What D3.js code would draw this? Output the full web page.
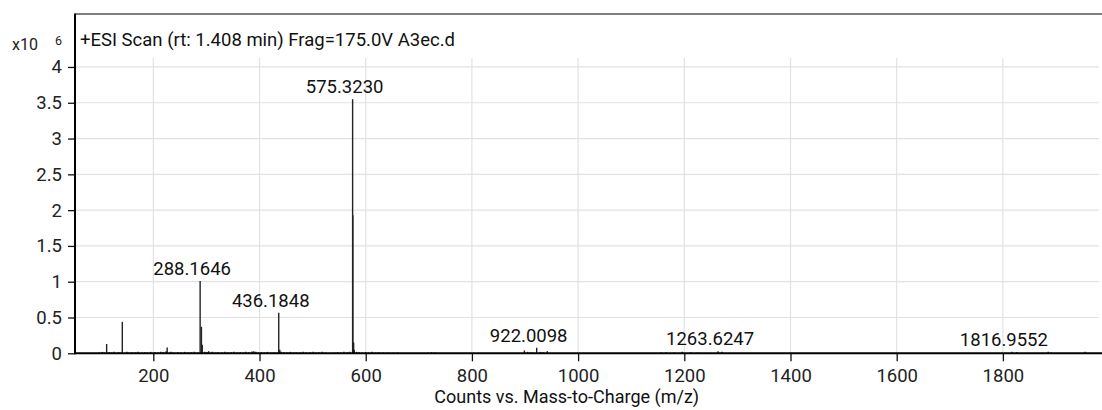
<!DOCTYPE html>
<html>
<head>
<meta charset="utf-8">
<script src="https://cdn.jsdelivr.net/npm/d3@7"></script>
<style>
  html, body { margin: 0; padding: 0; background: #fff; }
  svg { display: block; font-family: Roboto, "Noto Sans", Arial, sans-serif; }
</style>
</head>
<body>
<svg id="chart" width="1102" height="410"></svg>
<script>
// Spectrum title and axis caption
const scanTitle = "+ESI Scan (rt: 1.408 min) Frag=175.0V A3ec.d";
const xAxisTitle = "Counts vs. Mass-to-Charge (m/z)";

// Main peaks: m/z and abundance (x10^6 counts)
const peakMz = [112.1, 141.6, 226.1, 288.1646, 290.6, 292.2, 304.2, 389.2, 436.1848, 438.2,
                575.3230, 575.8, 577.3, 578.4, 922.0098, 898.8, 942.0, 1263.6247, 1816.9552, 1885.4, 1955.0];
const peakAbundance = [0.13, 0.44, 0.08, 1.01, 0.37, 0.12, 0.03, 0.03, 0.567, 0.05,
                       3.55, 1.93, 0.15, 0.05, 0.078, 0.04, 0.03, 0.03, 0.02, 0.02, 0.02];

// Low-level baseline signals
const noiseMz = [98, 104, 108, 117, 121, 126, 133, 137, 150, 155, 160, 166, 171, 178, 184, 189, 195, 203,
                 209, 214, 219, 224, 233, 238, 246, 252, 259, 265, 271, 277, 283, 297, 301, 311, 317, 322,
                 329, 335, 341, 347, 352, 358, 364, 369, 374, 380, 386, 393, 398, 404, 410, 415, 421, 427,
                 432, 441, 446, 452, 458, 463, 469, 476, 482, 488, 495, 501, 507, 512, 518, 524, 541, 547,
                 553, 559, 565, 570, 583, 588, 594, 600, 606, 612, 619, 625, 633, 641, 652, 660, 718, 724,
                 731, 905, 911, 916, 929, 934, 1156, 1166, 1181, 1196, 1212, 1225, 1271, 1826, 1891];
const noiseAbundance = [0.01, 0.02, 0.01, 0.015, 0.01, 0.02, 0.01, 0.015, 0.02, 0.01, 0.015, 0.01, 0.02, 0.01, 0.015, 0.01, 0.02, 0.015,
                        0.01, 0.02, 0.015, 0.03, 0.02, 0.01, 0.015, 0.01, 0.02, 0.01, 0.015, 0.02, 0.01, 0.02, 0.015, 0.02, 0.01, 0.015,
                        0.01, 0.02, 0.01, 0.015, 0.02, 0.01, 0.015, 0.01, 0.02, 0.015, 0.025, 0.02, 0.01, 0.015, 0.01, 0.02, 0.01, 0.015,
                        0.01, 0.02, 0.015, 0.01, 0.02, 0.01, 0.015, 0.01, 0.02, 0.01, 0.015, 0.02, 0.01, 0.015, 0.02, 0.01, 0.01, 0.015,
                        0.01, 0.02, 0.015, 0.02, 0.02, 0.015, 0.01, 0.015, 0.01, 0.02, 0.01, 0.015, 0.01, 0.01, 0.01, 0.01, 0.01, 0.015,
                        0.01, 0.02, 0.015, 0.01, 0.02, 0.015, 0.01, 0.015, 0.01, 0.02, 0.015, 0.01, 0.02, 0.015, 0.01];

// Annotated peaks
const labelMz = [288.1646, 436.1848, 575.3230, 922.0098, 1263.6247, 1816.9552];

// Axis ticks
const xTicks = [200, 400, 600, 800, 1000, 1200, 1400, 1600, 1800];
const yTicks = [0, 0.5, 1, 1.5, 2, 2.5, 3, 3.5, 4];

const svg = d3.select("#chart");
const plotLeft = 75, plotRight = 1099, plotTop = 14, plotBottom = 353.3;
const fontSize = 18.5;

const x = d3.scaleLinear().domain([52.5, 1981]).range([plotLeft, plotRight]);
const y = d3.scaleLinear().domain([0, 4.74]).range([plotBottom, plotTop]);

// Grid
const gridTop = 58;
svg.append("g").selectAll("line").data(xTicks).join("line")
  .attr("x1", d => x(d)).attr("x2", d => x(d))
  .attr("y1", gridTop).attr("y2", plotBottom)
  .attr("stroke", "#e2e2e2").attr("stroke-width", 1.2);
svg.append("g").selectAll("line").data(yTicks.filter(d => d > 0)).join("line")
  .attr("x1", plotLeft).attr("x2", plotRight)
  .attr("y1", d => y(d)).attr("y2", d => y(d))
  .attr("stroke", "#e2e2e2").attr("stroke-width", 1.2);

// Frame top
svg.append("line")
  .attr("x1", plotLeft).attr("x2", 1102).attr("y1", plotTop).attr("y2", plotTop)
  .attr("stroke", "#555").attr("stroke-width", 1.5);

// Spectrum sticks
const sticks = [];
noiseMz.forEach((m, i) => sticks.push({ mz: m, v: noiseAbundance[i] }));
peakMz.forEach((m, i) => sticks.push({ mz: m, v: peakAbundance[i] }));
svg.append("g").selectAll("line").data(sticks).join("line")
  .attr("x1", d => x(d.mz)).attr("x2", d => x(d.mz))
  .attr("y1", plotBottom).attr("y2", d => y(d.v))
  .attr("stroke", "#222").attr("stroke-width", 1.4);

// Peak annotations
const labels = labelMz.map(m => ({ mz: m, v: peakAbundance[peakMz.indexOf(m)] }));
svg.append("g").selectAll("text").data(labels).join("text")
  .attr("x", d => x(d.mz) - 8).attr("y", d => y(d.v) - 6)
  .attr("text-anchor", "middle")
  .attr("font-size", fontSize).attr("fill", "#111")
  .text(d => d.mz.toFixed(4));

// Axes
const xAxis = d3.axisBottom(x).tickValues(xTicks).tickSize(8).tickFormat(d3.format("d"));
const gx = svg.append("g").attr("transform", `translate(0,${plotBottom})`).call(xAxis);
gx.select(".domain").remove();
gx.selectAll(".tick line").attr("stroke", "#111").attr("stroke-width", 1.3);
gx.selectAll(".tick text").attr("font-size", fontSize).attr("fill", "#222").attr("dy", "0.98em")
  .attr("font-family", "Roboto, 'Noto Sans', Arial, sans-serif");

const yAxis = d3.axisLeft(y).tickValues(yTicks).tickSize(7).tickPadding(6).tickFormat(d => d);
const gy = svg.append("g").attr("transform", `translate(${plotLeft},0)`).call(yAxis);
gy.select(".domain").remove();
gy.selectAll(".tick line").attr("stroke", "#111").attr("stroke-width", 1.3);
gy.selectAll(".tick text").attr("font-size", fontSize).attr("fill", "#222")
  .attr("font-family", "Roboto, 'Noto Sans', Arial, sans-serif");

// Axis lines
svg.append("line").attr("x1", plotLeft).attr("x2", 1102).attr("y1", plotBottom).attr("y2", plotBottom)
  .attr("stroke", "#000").attr("stroke-width", 2);
svg.append("line").attr("x1", plotLeft).attr("x2", plotLeft).attr("y1", plotTop - 0.5).attr("y2", plotBottom + 1)
  .attr("stroke", "#000").attr("stroke-width", 2);

// Scale factor and title
svg.append("text").attr("x", 12).attr("y", 50).attr("font-size", 16).attr("fill", "#222").text("x10");
svg.append("text").attr("x", 55).attr("y", 45).attr("font-size", 12.5).attr("fill", "#222").text("6");
svg.append("text").attr("x", 80).attr("y", 46).attr("font-size", fontSize).attr("fill", "#111").text(scanTitle);
svg.append("text").attr("x", 566.7).attr("y", 403).attr("text-anchor", "middle")
  .attr("font-size", 18).attr("fill", "#111").text(xAxisTitle);
</script>
</body>
</html>
